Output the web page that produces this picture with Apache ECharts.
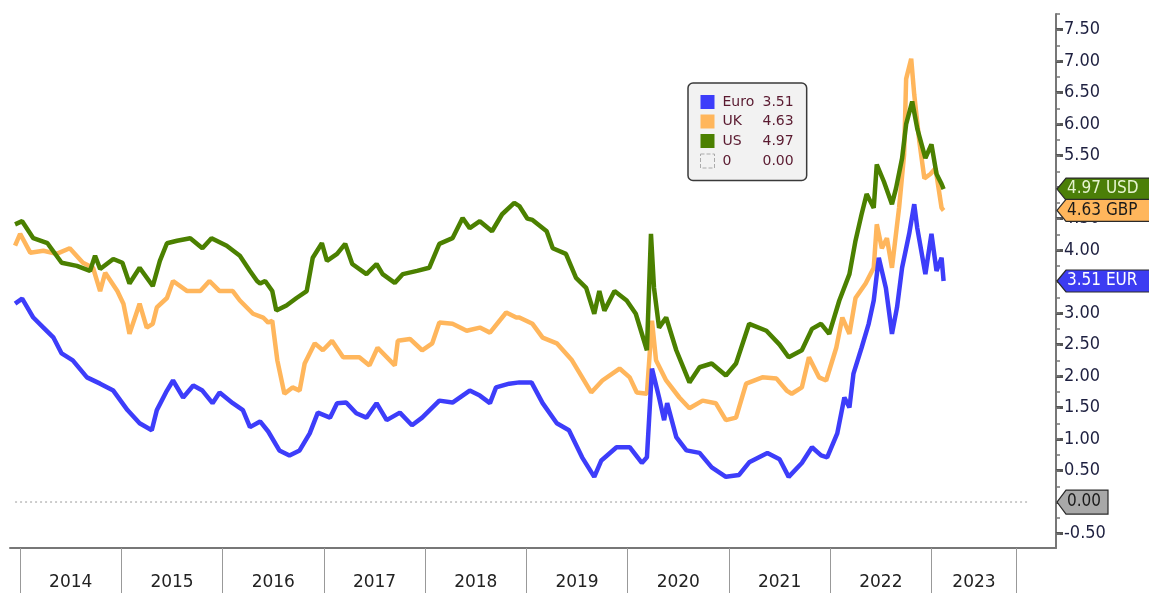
<!DOCTYPE html>
<html>
<head>
<meta charset="utf-8">
<script src="https://cdn.jsdelivr.net/npm/echarts@6/dist/echarts.min.js"></script>
<style>
html,body{margin:0;padding:0;background:#fff;}
#chart{width:1149px;height:593px;}
</style>
</head>
<body>
<div id="chart"></div>
<script>
// ---- Data (decimal years, yields in %) ----
const euroT = [2013.95,2014.02,2014.13,2014.23,2014.33,2014.41,2014.52,2014.66,2014.79,2014.92,2015.06,2015.18,2015.30,2015.35,2015.45,2015.51,2015.61,2015.71,2015.80,2015.90,2015.97,2016.10,2016.20,2016.27,2016.37,2016.45,2016.56,2016.66,2016.76,2016.86,2016.94,2017.06,2017.13,2017.22,2017.32,2017.42,2017.52,2017.62,2017.75,2017.87,2017.97,2018.14,2018.27,2018.44,2018.54,2018.64,2018.70,2018.83,2018.93,2019.05,2019.16,2019.30,2019.42,2019.55,2019.67,2019.74,2019.89,2020.02,2020.14,2020.19,2020.24,2020.31,2020.36,2020.39,2020.48,2020.58,2020.71,2020.83,2020.97,2021.10,2021.20,2021.38,2021.50,2021.59,2021.72,2021.82,2021.91,2021.97,2022.07,2022.14,2022.19,2022.23,2022.31,2022.38,2022.43,2022.48,2022.55,2022.61,2022.66,2022.71,2022.78,2022.83,2022.86,2022.94,2023.00,2023.05,2023.10,2023.12];
const euroV = [3.15,3.23,2.93,2.77,2.61,2.36,2.25,1.98,1.88,1.77,1.46,1.25,1.14,1.46,1.77,1.93,1.66,1.85,1.77,1.57,1.74,1.57,1.46,1.19,1.28,1.12,0.82,0.74,0.82,1.09,1.42,1.34,1.57,1.58,1.41,1.34,1.57,1.30,1.42,1.22,1.34,1.61,1.58,1.77,1.69,1.57,1.82,1.88,1.90,1.90,1.57,1.25,1.14,0.71,0.40,0.66,0.87,0.87,0.62,0.71,2.12,1.66,1.30,1.57,1.03,0.82,0.78,0.55,0.40,0.43,0.63,0.78,0.68,0.40,0.62,0.87,0.74,0.71,1.09,1.66,1.50,2.04,2.45,2.83,3.20,3.88,3.40,2.67,3.09,3.72,4.26,4.73,4.35,3.62,4.26,3.67,3.88,3.51];

const ukT = [2013.95,2014.00,2014.10,2014.23,2014.36,2014.49,2014.62,2014.72,2014.79,2014.84,2014.96,2015.02,2015.08,2015.18,2015.25,2015.31,2015.35,2015.45,2015.51,2015.65,2015.78,2015.87,2015.97,2016.10,2016.17,2016.30,2016.40,2016.45,2016.49,2016.54,2016.61,2016.69,2016.76,2016.81,2016.91,2016.99,2017.08,2017.19,2017.35,2017.45,2017.53,2017.70,2017.73,2017.85,2017.97,2018.07,2018.14,2018.27,2018.41,2018.54,2018.64,2018.80,2018.90,2018.93,2019.06,2019.16,2019.30,2019.45,2019.64,2019.75,2019.92,2020.02,2020.09,2020.19,2020.24,2020.28,2020.38,2020.51,2020.61,2020.74,2020.87,2020.97,2021.07,2021.17,2021.33,2021.47,2021.57,2021.62,2021.72,2021.79,2021.89,2021.96,2022.06,2022.12,2022.19,2022.25,2022.35,2022.43,2022.46,2022.51,2022.56,2022.61,2022.68,2022.73,2022.75,2022.80,2022.83,2022.88,2022.93,2022.99,2023.04,2023.10,2023.12];
const ukV = [4.07,4.26,3.96,3.99,3.94,4.03,3.80,3.72,3.35,3.64,3.35,3.15,2.67,3.15,2.77,2.83,3.09,3.24,3.51,3.35,3.35,3.51,3.35,3.35,3.20,2.99,2.93,2.85,2.88,2.25,1.72,1.82,1.77,2.20,2.52,2.41,2.56,2.30,2.30,2.17,2.45,2.17,2.56,2.59,2.41,2.52,2.85,2.83,2.72,2.77,2.69,3.01,2.93,2.93,2.83,2.61,2.52,2.25,1.74,1.93,2.12,1.98,1.74,1.72,2.88,2.25,1.93,1.66,1.49,1.61,1.57,1.30,1.34,1.88,1.98,1.96,1.77,1.72,1.82,2.30,1.98,1.93,2.45,2.93,2.67,3.24,3.47,3.72,4.41,4.03,4.19,3.72,4.67,5.52,6.72,7.04,6.47,5.73,5.14,5.21,5.30,4.67,4.63];

const usT = [2013.95,2014.02,2014.13,2014.27,2014.41,2014.56,2014.69,2014.74,2014.79,2014.92,2015.01,2015.08,2015.18,2015.31,2015.38,2015.45,2015.55,2015.68,2015.80,2015.89,2016.04,2016.17,2016.27,2016.34,2016.37,2016.42,2016.49,2016.53,2016.63,2016.73,2016.83,2016.89,2016.98,2017.03,2017.13,2017.21,2017.28,2017.42,2017.52,2017.58,2017.70,2017.78,2017.92,2018.04,2018.14,2018.27,2018.37,2018.44,2018.54,2018.66,2018.76,2018.88,2018.93,2019.01,2019.06,2019.20,2019.26,2019.39,2019.49,2019.59,2019.67,2019.72,2019.77,2019.87,2019.99,2020.08,2020.19,2020.23,2020.26,2020.31,2020.38,2020.48,2020.61,2020.71,2020.83,2020.97,2021.07,2021.20,2021.37,2021.50,2021.59,2021.72,2021.82,2021.91,2021.99,2022.09,2022.19,2022.25,2022.31,2022.36,2022.43,2022.46,2022.53,2022.61,2022.65,2022.71,2022.75,2022.81,2022.86,2022.94,2023.00,2023.05,2023.10,2023.12];
const usV = [4.41,4.46,4.19,4.11,3.80,3.75,3.67,3.91,3.70,3.86,3.80,3.47,3.72,3.43,3.83,4.11,4.15,4.19,4.03,4.19,4.07,3.91,3.67,3.51,3.47,3.51,3.35,3.04,3.12,3.24,3.35,3.88,4.11,3.83,3.94,4.10,3.78,3.62,3.78,3.62,3.48,3.62,3.67,3.72,4.10,4.19,4.51,4.35,4.46,4.30,4.57,4.75,4.70,4.50,4.48,4.30,4.03,3.94,3.56,3.40,2.99,3.35,3.04,3.35,3.20,2.99,2.41,4.26,3.40,2.77,2.93,2.41,1.90,2.14,2.20,2.01,2.20,2.83,2.72,2.50,2.30,2.41,2.75,2.83,2.67,3.20,3.62,4.15,4.57,4.89,4.67,5.36,5.09,4.73,4.98,5.46,6.00,6.36,5.93,5.46,5.68,5.21,5.05,4.97];

const zeroT = [2013.95, 2023.96];
const zeroV = [0, 0];

const seriesNames = ['Euro', 'UK', 'US', '0'];
const tagSuffix = ['EUR', 'GBP', 'USD', ''];
const yearBoundaries = [2014,2015,2016,2017,2018,2019,2020,2021,2022,2023,2023.84];
const yearLabelPos = [2014.5,2015.5,2016.5,2017.5,2018.5,2019.5,2020.5,2021.5,2022.5,2023.42];
const yLabelValues = [-0.5,0,0.5,1,1.5,2,2.5,3,3.5,4,4.5,5,5.5,6,6.5,7,7.5];
const yMinorTicks = [-0.5,-0.25,0,0.25,0.5,0.75,1,1.25,1.5,1.75,2,2.25,2.5,2.75,3,3.25,3.5,3.75,4,4.25,4.5,4.75,5,5.25,5.5,5.75,6,6.25,6.5,6.75,7,7.25,7.5,7.75];

const colors = {Euro:'#3d3dfa', UK:'#ffb65c', US:'#4b8000', '0':'#8a8a8a'};

function zip(t, v){ return t.map((x,i)=>[x, v[i]]); }
const lastVal = {Euro: euroV[euroV.length-1], UK: ukV[ukV.length-1], US: usV[usV.length-1], '0': zeroV[zeroV.length-1]};

const chart = echarts.init(document.getElementById('chart'));
const X_MIN = 2013.9, X_MAX = 2024.23, Y_MIN = -0.73, Y_MAX = 7.75;

chart.setOption({
  animation: false,
  backgroundColor: '#ffffff',
  grid: {left: 10, right: 93, top: 14, bottom: 45},
  legend: {
    orient: 'vertical',
    left: 688, top: 83,
    padding: [12, 13, 12, 12],
    backgroundColor: '#f2f2f2',
    borderColor: '#3a3a3a', borderWidth: 1.5, borderRadius: 5,
    itemWidth: 14, itemHeight: 14, itemGap: 5.5,
    icon: 'rect',
    selectedMode: false,
    data: [
      {name: 'Euro'}, {name: 'UK'}, {name: 'US'},
      {name: '0', itemStyle: {color: 'rgba(0,0,0,0)', borderColor: '#aaa', borderWidth: 1, borderType: 'dashed'}}
    ],
    formatter: name => '{n|' + name + '}{v|' + lastVal[name].toFixed(2) + '}',
    textStyle: {
      rich: {
        n: {width: 40, fontSize: 14, color: '#5a1a30', fontFamily: 'DejaVu Sans, sans-serif', padding: [0,0,0,3]},
        v: {fontSize: 14, color: '#5a1a30', fontFamily: 'DejaVu Sans, sans-serif'}
      }
    }
  },
  xAxis: {
    type: 'value', min: X_MIN, max: X_MAX,
    splitLine: {show: false},
    axisLine: {show: true, onZero: false, lineStyle: {color: '#777', width: 2}},
    axisTick: {show: true, customValues: yearBoundaries, length: 48, lineStyle: {color: '#999', width: 1}},
    axisLabel: {
      customValues: yearLabelPos, margin: 26,
      formatter: v => String(Math.floor(v)),
      fontSize: 17, color: '#222', fontFamily: 'DejaVu Sans, sans-serif'
    }
  },
  yAxis: [{
    type: 'value', position: 'right', min: Y_MIN, max: Y_MAX,
    splitLine: {show: false},
    axisLine: {show: true, lineStyle: {color: '#777', width: 2}},
    axisTick: {show: true, customValues: yLabelValues, length: 7, lineStyle: {color: '#555', width: 3}},
    axisLabel: {
      customValues: yLabelValues, margin: 8,
      formatter: v => v.toFixed(2),
      fontSize: 18, color: '#1e2040', fontFamily: 'DejaVu Sans Condensed, DejaVu Sans, sans-serif'
    }
  }, {
    type: 'value', position: 'right', min: Y_MIN, max: Y_MAX,
    splitLine: {show: false},
    axisLine: {show: false},
    axisTick: {show: true, customValues: yMinorTicks, length: 4, lineStyle: {color: '#777', width: 1.5}},
    axisLabel: {show: false}
  }],
  series: [
    {name: '0', type: 'line', data: zip(zeroT, zeroV), showSymbol: false, color: colors['0'],
     lineStyle: {color: '#9a9a9a', width: 1, type: [2, 3]}, z: 1},
    {name: 'UK', type: 'line', data: zip(ukT, ukV), showSymbol: false, color: colors.UK,
     lineStyle: {width: 4.5, color: colors.UK}, z: 2},
    {name: 'Euro', type: 'line', data: zip(euroT, euroV), showSymbol: false, color: colors.Euro,
     lineStyle: {width: 4.5, color: colors.Euro}, z: 3},
    {name: 'US', type: 'line', data: zip(usT, usV), showSymbol: false, color: colors.US,
     lineStyle: {width: 4.5, color: colors.US}, z: 4}
  ]
});

// Value tags on the right axis
const axisX = chart.convertToPixel({xAxisIndex: 0}, X_MAX);
const tagDefs = [
  {name: 'US', label: lastVal.US.toFixed(2) + ' ' + tagSuffix[2], fill: '#4b7f08', text: '#e6f4cf', right: 1152, h: 22},
  {name: 'UK', label: lastVal.UK.toFixed(2) + ' ' + tagSuffix[1], fill: '#ffb65c', text: '#1a1a1a', right: 1152, h: 22},
  {name: 'Euro', label: lastVal.Euro.toFixed(2) + ' ' + tagSuffix[0], fill: '#3c3cf2', text: '#ffffff', right: 1152, h: 22},
  {name: '0', label: lastVal['0'].toFixed(2), fill: '#a8a8a8', text: '#1a1a1a', right: 1108, h: 24}
];
const graphics = [];
tagDefs.forEach((d, i) => {
  const yc = chart.convertToPixel({yAxisIndex: 0}, lastVal[d.name]);
  const x0 = axisX + 1, hh = d.h / 2;
  graphics.push({
    type: 'polygon', z: 100 + i,
    shape: {points: [[x0, yc], [x0 + 9, yc - hh], [d.right, yc - hh], [d.right, yc + hh], [x0 + 9, yc + hh]]},
    style: {fill: d.fill, stroke: '#2a2a2a', lineWidth: 1.2}
  });
  graphics.push({
    type: 'text', z: 101 + i, x: x0 + 10, y: yc,
    style: {text: d.label, fill: d.text, font: '17px "DejaVu Sans Condensed", "DejaVu Sans", sans-serif', verticalAlign: 'middle', align: 'left'}
  });
});
chart.setOption({graphic: graphics});
</script>
</body>
</html>
